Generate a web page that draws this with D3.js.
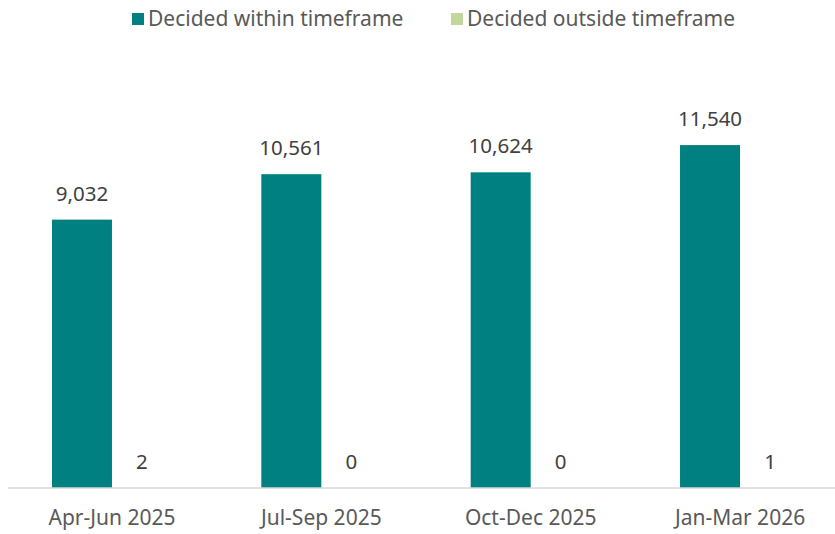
<!DOCTYPE html>
<html lang="en">
<head>
<meta charset="utf-8">
<title>Decided within / outside timeframe</title>
<script src="https://cdn.jsdelivr.net/npm/d3@7"></script>
<style>
  body { margin: 0; background: #fff; }
  text { font-family: "Noto Sans", "Open Sans", sans-serif; }
</style>
</head>
<body>
<script>
// data
var categories = ["Apr-Jun 2025", "Jul-Sep 2025", "Oct-Dec 2025", "Jan-Mar 2026"];
var seriesNames = ["Decided within timeframe", "Decided outside timeframe"];
var within = [9032, 10561, 10624, 11540];
var outside = [2, 0, 0, 1];
var colors = ["#008080", "#c3d69b"];

var w = 835, h = 534;
var base = 488;

var svg = d3.select("body").append("svg")
  .attr("width", w)
  .attr("height", h);

var x0 = d3.scaleBand()
  .domain(categories)
  .range([7.3, 844.7])
  .paddingInner(0.4268)
  .paddingOuter(0.2134);

var x1 = d3.scaleBand()
  .domain([0, 1])
  .range([0, x0.bandwidth()]);

var y = d3.scaleLinear()
  .domain([0, 14000])
  .range([base, 72]);

var rows = categories.map(function(c, i) {
  return { cat: c, vals: [within[i], outside[i]] };
});

var fmt = d3.format(",");

var groups = svg.selectAll("g.grp")
  .data(rows)
  .enter()
  .append("g")
  .attr("class", "grp")
  .attr("transform", function(d) { return "translate(" + x0(d.cat) + ",0)"; });

groups.selectAll("rect")
  .data(function(d) { return d.vals; })
  .enter()
  .append("rect")
  .attr("x", function(d, i) { return x1(i); })
  .attr("y", function(d) { return y(d); })
  .attr("width", x1.bandwidth())
  .attr("height", function(d) { return base - y(d); })
  .attr("fill", function(d, i) { return colors[i]; });

groups.selectAll("text")
  .data(function(d) { return d.vals; })
  .enter()
  .append("text")
  .attr("x", function(d, i) { return x1(i) + x1.bandwidth() / 2; })
  .attr("y", function(d) { return y(d) - 19; })
  .attr("text-anchor", "middle")
  .attr("font-size", "20.5px")
  .attr("fill", "#404040")
  .text(function(d) { return fmt(d); });

// x axis
var xAxis = svg.append("g")
  .attr("transform", "translate(0," + base + ")")
  .call(d3.axisBottom(x0).tickSize(0).tickPadding(22));
xAxis.select(".domain").attr("stroke", "#d9d9d9").attr("stroke-width", 1.5)
  .attr("d", "M8,0H835");
xAxis.selectAll("text")
  .attr("font-size", "21px")
  .attr("fill", "#595959")
  .style("font-family", "\"Noto Sans\", sans-serif");

// legend
var legendX = [132, 451];
var legend = svg.selectAll("g.leg")
  .data(seriesNames)
  .enter()
  .append("g")
  .attr("class", "leg")
  .attr("transform", function(d, i) { return "translate(" + legendX[i] + ",13)"; });

legend.append("rect")
  .attr("width", 12)
  .attr("height", 12)
  .attr("fill", function(d, i) { return colors[i]; });

legend.append("text")
  .attr("x", 16)
  .attr("y", 12.5)
  .attr("font-size", "21px")
  .attr("fill", "#595959")
  .text(function(d) { return d; });
</script>
</body>
</html>
